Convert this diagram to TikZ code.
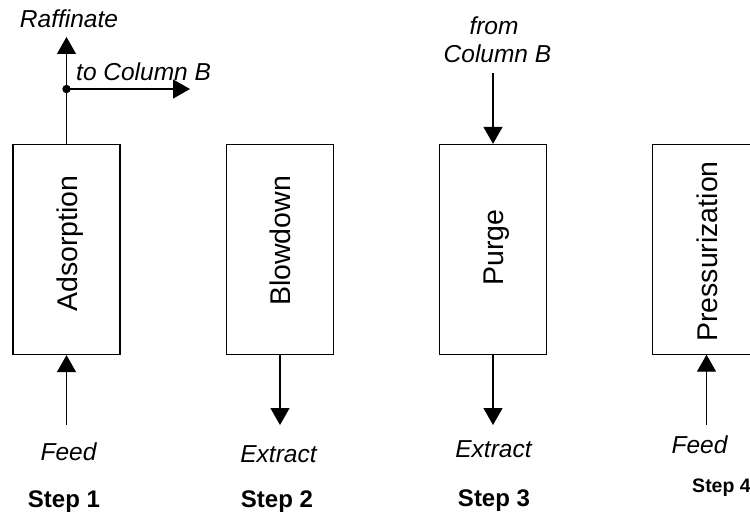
\documentclass[tikz,border=0pt]{standalone}
\usepackage{fontspec}
\setmainfont{Liberation Sans}
\usetikzlibrary{arrows.meta}
\begin{document}
\begin{tikzpicture}[x=1pt,y=-1pt,
  column/.style={draw,line width=1.3pt,rectangle,minimum width=107pt,minimum height=210pt,inner sep=0pt},
  boxtext/.style={rotate=90,anchor=base,inner sep=0pt,font=\fontsize{28.5}{32}\selectfont},
  flowlbl/.style={anchor=base,inner sep=0pt,font=\fontsize{24.5}{28}\selectfont\itshape},
  steplbl/.style={anchor=base,inner sep=0pt,font=\fontsize{24}{28}\selectfont\bfseries},
  arr/.style={line width=1.3pt,-{Triangle[length=17pt,width=19pt]}}]
\useasboundingbox (0,0) rectangle (750,516);

% Step 1
\node[column] (b1) at (66.5,249.5) {};
\node[boxtext] (t1) at (77,243.5) {Adsorption};
\coordinate (raf) at (66.5,37);
\coordinate (dot) at (66.5,89);
\coordinate (tocb) at (190,89);
\coordinate (feed1) at (66.5,425);
\draw[arr] (b1.north) -- (raf);
\draw[arr] (dot) -- (tocb);
\fill (dot) circle (4.2);
\draw[arr] (feed1) -- (b1.south);
\node[flowlbl] (lraf) at (69,28) {Raffinate};
\node[flowlbl,anchor=base west] (ltocb) at (76,81) {to Column B};
\node[flowlbl] (lfeed1) at (68.5,460) {Feed};
\node[steplbl] (s1) at (64,507) {Step 1};

% Step 2
\node[column] (b2) at (280,249.5) {};
\node[boxtext] (t2) at (290,241) {Blowdown};
\coordinate (ext2) at (280,425);
\draw[arr] (b2.south) -- (ext2);
\node[flowlbl] (lext2) at (278.5,462) {Extract};
\node[steplbl] (s2) at (277,507) {Step 2};

% Step 3
\node[column] (b3) at (493,249.5) {};
\node[boxtext] (t3) at (503,247.5) {Purge};
\coordinate (from3) at (493,73);
\coordinate (ext3) at (493,425);
\draw[arr] (from3) -- (b3.north);
\draw[arr] (b3.south) -- (ext3);
\node[flowlbl] (lfrom) at (494,35) {from};
\node[flowlbl] (lcolb) at (497.5,63) {Column B};
\node[flowlbl] (lext3) at (493.5,457) {Extract};
\node[steplbl] (s3) at (494,506) {Step 3};

% Step 4 (box runs past the right edge)
\node[rectangle,minimum width=97pt,minimum height=210pt,inner sep=0pt] (b4) at (701.5,249.5) {};
\draw[line width=1.3pt] (b4.north east) -- (b4.north west) -- (b4.south west) -- (b4.south east);
\node[boxtext] (t4) at (717,251.5) {Pressurization};
\coordinate (feed4) at (706.5,425);
\draw[arr] (feed4) -- (feed4 |- b4.south);
\node[flowlbl] (lfeed4) at (699.5,453) {Feed};
\node[steplbl,font=\fontsize{19.5}{23}\selectfont\bfseries] (s4) at (721.5,492) {Step 4};
\end{tikzpicture}
\end{document}
